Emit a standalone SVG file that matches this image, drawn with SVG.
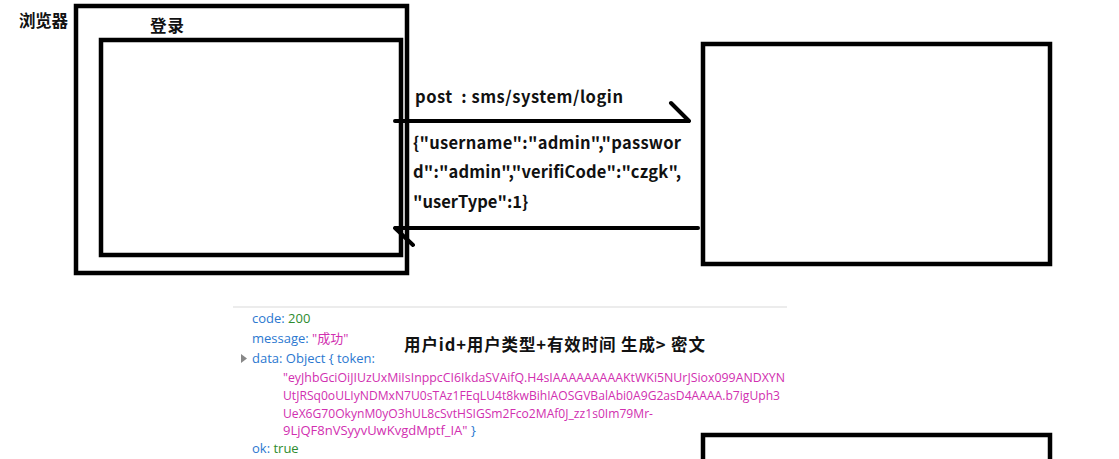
<svg xmlns="http://www.w3.org/2000/svg" width="1119" height="459" viewBox="0 0 1119 459">
<style>
.box{fill:none;stroke:#000;stroke-width:4.5}
.lbl{font-family:"Noto Sans CJK SC","Liberation Sans",sans-serif;font-weight:bold;fill:#111}
.con{fill:none;stroke:#000;stroke-width:4;stroke-linecap:round}
.mono{font-family:"Open Sans","Noto Sans CJK SC",sans-serif;font-size:13px}
.k{fill:#2b78d0}
.num{fill:#2e8b2e}
.str{fill:#d12fb0}
</style>
<rect width="1119" height="459" fill="#fff"/>
<g id="browser">
<rect class="box" x="76" y="6" width="331" height="267"/>
<text class="lbl" x="19" y="27" font-size="16.5" textLength="49">浏览器</text>
</g>
<g id="login">
<rect class="box" x="101" y="40" width="300" height="215"/>
<text class="lbl" x="150" y="32" font-size="16.5" textLength="34">登录</text>
</g>
<g id="server">
<rect class="box" x="703" y="44" width="347" height="220"/>
</g>
<g id="bottom-box">
<rect class="box" x="703" y="435" width="347" height="40"/>
</g>
<g id="connectors">
<path class="con" d="M395 121 H689 M671 103 L689 121"/>
<path class="con" d="M698 228 H395 M395 228 L413 245"/>
</g>
<g id="labels">
<text class="lbl" x="415" y="103" font-size="16.5" textLength="208" xml:space="preserve">post  : sms/system/login</text>
<text class="lbl" x="413" y="149" font-size="16.5" textLength="268">{"username":"admin","passwor</text>
<text class="lbl" x="413" y="178" font-size="16.5" textLength="268">d":"admin","verifiCode":"czgk",</text>
<text class="lbl" x="413" y="208" font-size="16.5">"userType":1}</text>
<text class="lbl" x="404" y="351" font-size="16.5" textLength="301">用户id+用户类型+有效时间 生成&gt; 密文</text>
</g>
<g id="response">
<line x1="233" y1="307" x2="787" y2="307" stroke="#e6e6e6" stroke-width="1.5"/>
<text class="mono" x="252" y="323"><tspan class="k">code: </tspan><tspan class="num">200</tspan></text>
<text class="mono" x="252" y="343"><tspan class="k">message: </tspan><tspan class="str">"成功"</tspan></text>
<path d="M241 354 L247 358.5 L241 363 Z" fill="#888"/>
<text class="mono k" x="252" y="363">data: Object { token:</text>
<text class="mono str" x="283" y="382" textLength="502" lengthAdjust="spacingAndGlyphs">"eyJhbGciOiJIUzUxMiIsInppcCI6IkdaSVAifQ.H4sIAAAAAAAAAKtWKi5NUrJSiox099ANDXYN</text>
<text class="mono str" x="283" y="400" textLength="497" lengthAdjust="spacingAndGlyphs">UtJRSq0oULIyNDMxN7U0sTAz1FEqLU4t8kwBihIAOSGVBalAbi0A9G2asD4AAAA.b7igUph3</text>
<text class="mono str" x="283" y="418" textLength="370" lengthAdjust="spacingAndGlyphs">UeX6G70OkynM0yO3hUL8cSvtHSIGSm2Fco2MAf0J_zz1s0Im79Mr-</text>
<text class="mono" x="283" y="435"><tspan class="str">9LjQF8nVSyyvUwKvgdMptf_IA"</tspan><tspan class="k"> }</tspan></text>
<text class="mono" x="252" y="453"><tspan class="k">ok: </tspan><tspan class="num">true</tspan></text>
</g>
</svg>
